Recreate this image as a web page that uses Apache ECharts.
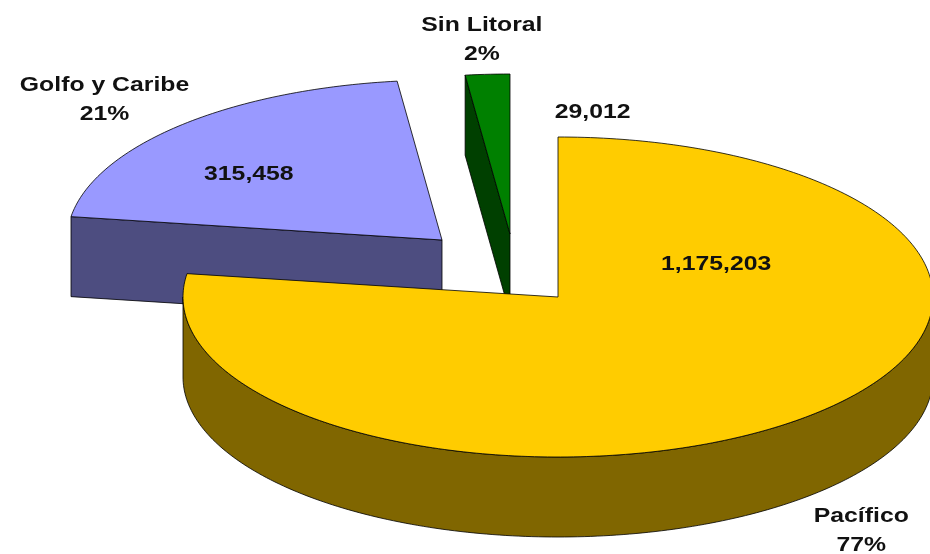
<!DOCTYPE html>
<html><head><meta charset="utf-8">
<script src="https://cdn.jsdelivr.net/npm/echarts@6/dist/echarts.min.js"></script>
<style>html,body{margin:0;padding:0;background:#fff}#c{width:930px;height:554px}</style>
</head><body><div id="c"></div>
<script>
// ---- data ----
const categories = ['Pacífico', 'Golfo y Caribe', 'Sin Litoral'];
const values = [1175203, 315458, 29012];

// ---- styles / layout ----
const topColors = ['#FFCC00', '#9999FF', '#008000'];
const sideColors = ['#806600', '#4D4D80', '#004000'];
const explodeOffsets = [[0, 0], [-116, -57], [-48, -63]];
const valueLabelAnchor = [[63.8, 0.47], [308.7, 0.66], [16.2, 0.79]]; // [angle deg, radius fraction]
const nameLabelRadius = [1.25, 1.29, 1.25];
const nameLabelNudge = [[-3, 2], [0, 8], [0, 5]];
const drawOrder = [3, 2, 1];
const PIE = { cx: 558, cy: 297, rx: 375, ry: 160, depth: 80 };
const FONT = 'bold 21px "Liberation Sans", Arial, sans-serif';
const TEXT_SCALE_X = 1.18;

const total = values.reduce((a, b) => a + b, 0);
const starts = [];
let acc = 0;
values.forEach(v => { starts.push(acc / total * 360); acc += v; });

function pt(t, r, o, d) {
  const a = t * Math.PI / 180;
  return [PIE.cx + o[0] + r * PIE.rx * Math.sin(a), PIE.cy + o[1] - r * PIE.ry * Math.cos(a) + (d || 0)];
}
function arc(a, b, o, d) {
  const pts = [];
  const n = Math.max(2, Math.ceil(Math.abs(b - a)));
  for (let i = 0; i <= n; i++) pts.push(pt(a + (b - a) * i / n, 1, o, d));
  return pts;
}
function label(text, p, z2) {
  return {
    type: 'text', x: p[0], y: p[1], scaleX: TEXT_SCALE_X, z2: z2,
    style: { text: text, x: 0, y: 0, font: FONT, fill: '#111', align: 'center', verticalAlign: 'middle', lineHeight: 29 }
  };
}

function renderItem(params, api) {
  const i = params.dataIndex;
  const v = api.value(0);
  const a = starts[i];
  const b = a + v / total * 360;
  const o = explodeOffsets[i];
  const D = PIE.depth;
  const base = drawOrder[i] * 10;
  const line = { stroke: '#000', lineWidth: 0.8, lineJoin: 'round' };
  const children = [];
  const rad = Math.PI / 180;
  // radial walls: only the ones that face the viewer
  [[a, Math.sin(a * rad) < -1e-6], [b, Math.sin(b * rad) > 1e-6]].forEach(w => {
    if (!w[1]) return;
    const t = w[0];
    children.push({
      type: 'polygon', z2: base + 1,
      shape: { points: [pt(t, 0, o, 0), pt(t, 1, o, 0), pt(t, 1, o, D), pt(t, 0, o, D)] },
      style: Object.assign({ fill: sideColors[i] }, line)
    });
  });
  // outer curved side (front half only)
  const s = Math.max(a, 90), e = Math.min(b, 270);
  if (s < e) {
    children.push({
      type: 'polygon', z2: base + 2,
      shape: { points: arc(s, e, o, 0).concat(arc(e, s, o, D)) },
      style: Object.assign({ fill: sideColors[i] }, line)
    });
  }
  // top face
  children.push({
    type: 'polygon', z2: base + 3,
    shape: { points: [pt(a, 0, o, 0)].concat(arc(a, b, o, 0)) },
    style: Object.assign({ fill: topColors[i] }, line)
  });
  const va = valueLabelAnchor[i];
  children.push(label(v.toLocaleString('en-US'), pt(va[0], va[1], o, 0), 100));
  const mid = (a + b) / 2;
  const front = Math.cos(mid * rad) < 0;
  const pct = Math.round(v / total * 100) + '%';
  const np = pt(mid, nameLabelRadius[i], o, front ? D : 0);
  np[0] += nameLabelNudge[i][0];
  np[1] += nameLabelNudge[i][1];
  children.push(label(categories[i] + '\n' + pct, np, 100));
  return { type: 'group', children: children };
}

const chart = echarts.init(document.getElementById('c'), null, { renderer: 'canvas' });
chart.setOption({
  backgroundColor: '#fff',
  animation: false,
  series: [{
    type: 'custom',
    coordinateSystem: 'none',
    silent: true,
    renderItem: renderItem,
    data: values.map(v => [v])
  }]
});
</script>
</body></html>
